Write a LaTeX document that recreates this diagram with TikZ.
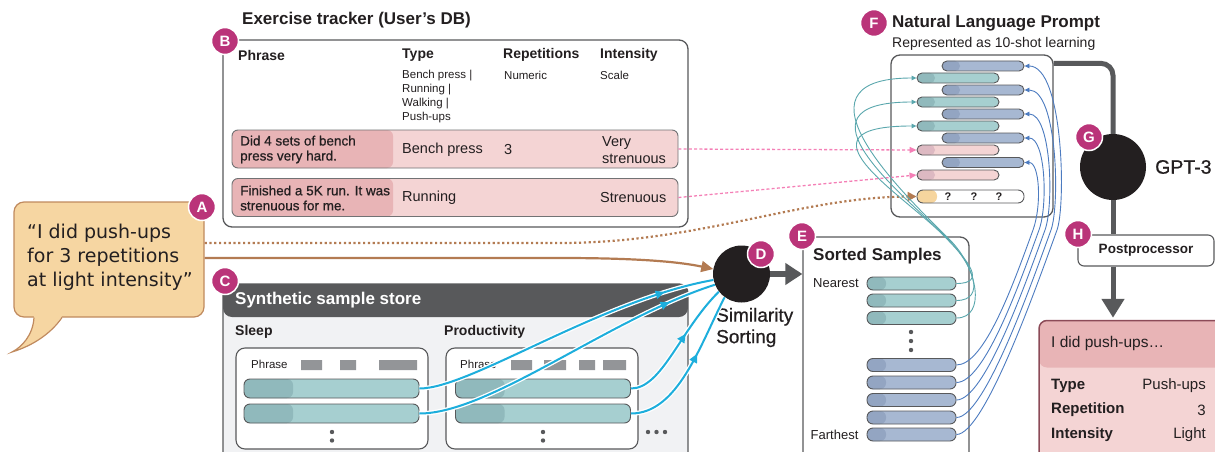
\documentclass[tikz,border=0pt]{standalone}
\usepackage{fontspec}
\setmainfont{Liberation Sans}
\newfontfamily\medfont{Liberation Sans}[FakeBold=0.7]
\newfontfamily\bubblefont{DejaVu Sans}
\usetikzlibrary{arrows.meta,decorations.markings}
\newcommand{\fsz}[2]{\fontsize{#1}{#2}\selectfont}

\definecolor{badge}{HTML}{BA3479}
\definecolor{ink}{HTML}{231F20}
\definecolor{frame}{HTML}{58595B}
\definecolor{tealL}{HTML}{A6CFD0}
\definecolor{tealD}{HTML}{90B9BC}
\definecolor{blueL}{HTML}{A7B8D2}
\definecolor{blueD}{HTML}{93A5C2}
\definecolor{pinkL}{HTML}{F4D4D4}
\definecolor{pinkD}{HTML}{E8B4B6}
\definecolor{pinkbarD}{HTML}{DDB9C2}
\definecolor{peach}{HTML}{F6D59E}
\definecolor{bubblefill}{HTML}{F6D6A2}
\definecolor{bubbleline}{HTML}{C08A5E}
\definecolor{brownline}{HTML}{B37B52}
\definecolor{hotpink}{HTML}{F47FB6}
\definecolor{cyanline}{HTML}{1DAEDC}
\definecolor{tealline}{HTML}{5AA7AD}
\definecolor{blueline}{HTML}{4C7BC0}
\definecolor{storebg}{HTML}{F1F2F4}
\definecolor{grayrect}{HTML}{939598}
\definecolor{outline}{HTML}{8C4B58}

\tikzset{
  lbl/.style={inner sep=0pt, anchor=west, text=ink, align=left},
  frm/.style={draw=frame, line width=1.3pt, rounded corners=9pt, fill=white, inner sep=0pt},
  twotone/.style 2 args={path picture={\fill[#1] (path picture bounding box.south west) rectangle ([xshift=#2]path picture bounding box.north west);}},
  topband/.style 2 args={path picture={\fill[#1] (path picture bounding box.north west) rectangle ([yshift=-#2]path picture bounding box.north east);}},
  pill/.style={draw=frame, line width=0.9pt, inner sep=0pt},
  sbar/.style={pill, minimum width=175pt, minimum height=19pt, rounded corners=6pt, fill=tealL, twotone={tealD}{49pt}},
  sortT/.style={pill, minimum width=89pt, minimum height=13pt, rounded corners=6pt, fill=tealL, twotone={tealD}{19pt}},
  sortB/.style={pill, minimum width=89pt, minimum height=13pt, rounded corners=6pt, fill=blueL, twotone={blueD}{19pt}},
  pT/.style={pill, minimum width=82pt, minimum height=10pt, rounded corners=5pt, fill=tealL, twotone={tealD}{18pt}},
  pB/.style={pill, minimum width=82pt, minimum height=10pt, rounded corners=5pt, fill=blueL, twotone={blueD}{18pt}},
  pP/.style={pill, minimum width=82pt, minimum height=10pt, rounded corners=5pt, fill=pinkL, twotone={pinkbarD}{18pt}},
  rowbox/.style={pill, draw=frame!85, minimum width=446pt, minimum height=38pt, rounded corners=6pt, fill=pinkL, twotone={pinkD}{161pt}},
  badgest/.style={circle, fill=badge, draw=white, line width=1.5pt, minimum size=27pt, inner sep=0pt, text=white, font=\fsz{15}{15}\bfseries},
  hd/.style={lbl, font=\fsz{14}{16}\bfseries},
  sub/.style={lbl, font=\fsz{11.5}{14}},
  dotc/.style={fill=frame},
  conn/.style={draw=frame, line width=5pt},
  pinkdash/.style={draw=hotpink, line width=1.3pt, dash pattern=on 3pt off 2.2pt, -{Triangle[length=7pt,width=6pt]}},
  tealcurve/.style={draw=tealline, line width=0.9pt, -{Triangle[length=5pt,width=4.5pt]}},
  bluecurve/.style={draw=blueline, line width=0.9pt, -{Triangle[length=5pt,width=4.5pt]}},
  cyanarrow/.style={draw=cyanline, line width=2pt, preaction={draw=white, line width=4.6pt},
    postaction={decorate, decoration={markings, mark=at position #1 with {\arrow{Triangle[length=9pt,width=8pt]}}}}},
}

\begin{document}
\begin{tikzpicture}[x=1pt,y=-1pt]
\useasboundingbox (0,0) rectangle (1215,452);
\clip (0,0) rectangle (1215,452);

% ---------- Exercise tracker (B) ----------
\node[lbl, font=\fsz{17}{20}\bfseries] (btitle) at (242,20) {Exercise tracker (User’s DB)};
\node[frm, minimum width=465pt, minimum height=187pt] (db) at (455.5,133.5) {};
\node[hd] (hphrase) at (238,55) {Phrase};
\node[hd] (htype) at (402,55) {Type};
\node[hd] (hrep) at (503,55) {Repetitions};
\node[hd] (hint) at (600,55) {Intensity};
\node[sub] (stype) at (402,97) {Bench press |\\Running |\\Walking |\\Push-ups};
\node[sub] (srep) at (504,75.5) {Numeric};
\node[sub] (sint) at (600,75.5) {Scale};

\node[rowbox] (row1) at (455,149) {};
\node[rowbox] (row2) at (455,197.5) {};
\node[lbl, font=\medfont\fsz{13.5}{15}] (r1p) at (240,149.5) {Did 4 sets of bench\\press very hard.};
\node[lbl, font=\fsz{14.5}{17}] (r1t) at (402,150) {Bench press};
\node[lbl, font=\fsz{14.5}{17}] (r1r) at (504,150) {3};
\node[lbl, font=\fsz{14.5}{17}] (r1i) at (602,150.5) {Very\\strenuous};
\node[lbl, font=\medfont\fsz{13.5}{15}] (r2p) at (240,198) {Finished a 5K run. It was\\strenuous for me.};
\node[lbl, font=\fsz{14.5}{17}] (r2t) at (402,198) {Running};
\node[lbl, font=\fsz{14.5}{17}] (r2i) at (600,198) {Strenuous};

% ---------- Speech bubble (A) ----------
\node[draw=bubbleline, fill=bubblefill, line width=1.2pt, rounded corners=10pt,
      minimum width=190pt, minimum height=115pt, inner sep=0pt] (bubble) at (109,259.5) {};
\fill[bubblefill] (34,316) .. controls (33,335) and (22,347) .. (12,352)
   .. controls (35,345) and (52,332) .. (62,316) -- cycle;
\draw[bubbleline, line width=1.2pt] (34,317.5) .. controls (33,335) and (22,347) .. (12,352)
   .. controls (35,345) and (52,332) .. (62,317.5);
\node[lbl, font=\bubblefont\fsz{19}{24}] (quote) at (27,257) {“I did push-ups\\for 3 repetitions\\at light intensity”};

% ---------- Synthetic sample store (C) ----------
\node[frm, fill=storebg, minimum width=465pt, minimum height=190pt, topband={frame}{33pt}] (store) at (455.5,379) {};
\node[lbl, text=white, font=\fsz{17}{20}\bfseries] (storetitle) at (235,300.5) {Synthetic sample store};
\node[hd] (sleep) at (235,332) {Sleep};
\node[hd] (prod) at (444,332) {Productivity};
\node[frm, line width=1.1pt, minimum width=192pt, minimum height=101pt] (sleepbox) at (332,398.5) {};
\node[frm, line width=1.1pt, minimum width=192pt, minimum height=101pt] (prodbox) at (542,398.5) {};
\node[sub] (sph) at (251,364.5) {Phrase};
\node[sub] (pph) at (460,364.5) {Phrase};
\fill[grayrect] (301,360) rectangle (322,370) (340,360) rectangle (356,370) (379,360) rectangle (417,370);
\fill[grayrect] (511,360) rectangle (532,370) (544,360) rectangle (566,370) (579,360) rectangle (595,370) (603,360) rectangle (626,370);
\node[sbar] (sl1) at (331.5,388.5) {};
\node[sbar] (sl2) at (331.5,413.5) {};
\node[sbar] (pr1) at (543,388.5) {};
\node[sbar] (pr2) at (543,413.5) {};
\fill[dotc] (332,432) circle (2.2) (332,440.5) circle (2.2);
\fill[dotc] (543,432) circle (2.2) (543,440.5) circle (2.2);
\fill[dotc] (648,432) circle (2.2) (656.5,432) circle (2.2) (665,432) circle (2.2);

% ---------- Similarity sorting (D) ----------
\node[circle, fill=ink, minimum size=57pt, inner sep=0pt] (D) at (741.5,274) {};
\node[lbl, font=\medfont\fsz{19}{21.5}] (simtxt) at (716,327.5) {Similarity\\Sorting};

% ---------- Sorted samples (E) ----------
\node[frm, minimum width=166pt, minimum height=240pt] (E) at (886,357) {};
\node[lbl, font=\fsz{17}{20}\bfseries] (etitle) at (813,256) {Sorted Samples};
\node[lbl, font=\fsz{13}{15}] (near) at (813,283.5) {Nearest};
\node[lbl, font=\fsz{13}{15}] (far) at (810.5,435) {Farthest};
\node[sortT] (sT1) at (911.5,283.5) {};
\node[sortT] (sT2) at (911.5,300.5) {};
\node[sortT] (sT3) at (911.5,318) {};
\fill[dotc] (911,332) circle (2.2) (911,341) circle (2.2) (911,350) circle (2.2);
\node[sortB] (sB1) at (911.5,365) {};
\node[sortB] (sB2) at (911.5,382.5) {};
\node[sortB] (sB3) at (911.5,400) {};
\node[sortB] (sB4) at (911.5,417.5) {};
\node[sortB] (sB5) at (911.5,434.5) {};

\draw[line width=6pt, draw=frame, -{Triangle[length=17pt,width=21pt]}] (D.east) -- (E.west |- D.east);

% ---------- Natural language prompt (F) ----------
\node[lbl, font=\fsz{17}{20}\bfseries] (ftitle) at (892,23) {Natural Language Prompt};
\node[lbl, font=\fsz{14}{16}] (fsub) at (892,43.5) {Represented as 10-shot learning};
\node[frm, minimum width=162pt, minimum height=162pt] (F) at (972,136) {};
\node[pB] (fB1) at (983,66) {};
\node[pT] (fT1) at (958,78) {};
\node[pB] (fB2) at (983,90) {};
\node[pT] (fT2) at (958,102) {};
\node[pB] (fB3) at (983,114) {};
\node[pT] (fT3) at (958,126) {};
\node[pB] (fB4) at (983,138) {};
\node[pP] (fP1) at (958,150) {};
\node[pB] (fB5) at (983,162.5) {};
\node[pP] (fP2) at (958,175) {};
\node[pill, minimum width=107pt, minimum height=13pt, rounded corners=6pt, fill=white, twotone={peach}{20pt}] (Q) at (970.5,196.5) {};
\node[font=\fsz{11}{12}\bfseries, text=ink, inner sep=0pt] (q1) at (948,197) {?};
\node[font=\fsz{11}{12}\bfseries, text=ink, inner sep=0pt] (q2) at (974,197) {?};
\node[font=\fsz{11}{12}\bfseries, text=ink, inner sep=0pt] (q3) at (999,197) {?};

% ---------- GPT-3 (G), postprocessor (H), output ----------
\node[circle, fill=ink, minimum size=66pt, inner sep=0pt] (G) at (1113,167) {};
\node[lbl, font=\medfont\fsz{19.5}{22}] (gtxt) at (1155,167) {GPT-3};
\node[frm, line width=1.1pt, rounded corners=6pt, minimum width=136pt, minimum height=31pt,
      font=\fsz{13.5}{16}\bfseries, text=ink] (H) at (1146,250.5) {Postprocessor};
\node[draw=outline, line width=1.5pt, rounded corners=8pt, fill=pinkL, topband={pinkD}{47pt},
      minimum width=186pt, minimum height=150pt, inner sep=0pt] (out) at (1132,395.5) {};
\node[lbl, font=\fsz{15.5}{18}] (o1) at (1051,343.5) {I did push-ups…};
\node[lbl, font=\fsz{15}{18}\bfseries] (o2) at (1051,386) {Type};
\node[lbl, font=\fsz{15}{18}\bfseries] (o3) at (1051,410) {Repetition};
\node[lbl, font=\fsz{15}{18}\bfseries] (o4) at (1051,435) {Intensity};
\node[lbl, anchor=east, font=\fsz{15}{18}] (o2v) at (1206,386) {Push-ups};
\node[lbl, anchor=east, font=\fsz{15}{18}] (o3v) at (1206,410) {3};
\node[lbl, anchor=east, font=\fsz{15}{18}] (o4v) at (1206,435) {Light};

\draw[conn, rounded corners=12pt] ([yshift=-9pt]F.north east) -| (G.north);
\draw[conn] (G.south) -- (G.south |- H.north);
\draw[conn, -{Triangle[length=19pt,width=22pt]}] (G.south |- H.south) -- ([yshift=2pt]G.south |- out.north);

% ---------- connectors ----------
\draw[pinkdash] (row1.east) -- (fP1.west);
\draw[pinkdash] (row2.east) -- (fP2.west);

\draw[brownline, line width=2.2pt, dash pattern=on 2.2pt off 2.6pt, -{Triangle[length=9pt,width=9pt]}]
  ([yshift=16.5pt]bubble.east) -- (560,243) .. controls (700,243) and (800,197) .. (Q.west);
\draw[brownline, line width=2.2pt, -{Triangle[length=12pt,width=11pt]}]
  ([yshift=1.5pt]bubble.east) -- (560,258) .. controls (640,258) and (680,262) .. (D.170);

\draw[cyanarrow=0.84] (sl1.east) .. controls (470,388.5) and (600,300) .. (D.192);
\draw[cyanarrow=0.85] (sl2.east) .. controls (490,413.5) and (610,318) .. (D.202);
\draw[cyanarrow=0.6] (pr1.east) .. controls (662,388.5) and (680,330) .. (D.218);
\draw[cyanarrow=0.6] (pr2.east) .. controls (678,413.5) and (700,345) .. (D.234);

\foreach \s/\f/\mx/\my/\dx in {sT1/fT3/942/234/127, sT2/fT2/946/237/132, sT3/fT1/950/240/137}
  \draw[tealcurve] (\s.east) .. controls +(30,0) and +(28,28) .. (\mx,\my)
     .. controls +(-40,-40) and +(-\dx,0) .. (\f.west);

\foreach \s/\f/\xm/\dx in {sB1/fB5/1033/15, sB2/fB4/1039/21, sB3/fB3/1045/27, sB4/fB2/1051/33, sB5/fB1/1057/39}
  \draw[bluecurve] (\s.east) .. controls +(28,0) and (\xm-20,285) .. (\xm,230)
     .. controls +(9,-25) and +(\dx,0) .. (\f.east);

% ---------- badges ----------
\node[badgest] (bA) at (202,207) {A};
\node[badgest] (bB) at (225,41) {B};
\node[badgest] (bC) at (225,281) {C};
\node[badgest] (bD) at (761,254) {D};
\node[badgest] (bE) at (802,236) {E};
\node[badgest] (bF) at (874,23) {F};
\node[badgest] (bG) at (1089,137) {G};
\node[badgest] (bH) at (1078,234) {H};
\end{tikzpicture}
\end{document}
